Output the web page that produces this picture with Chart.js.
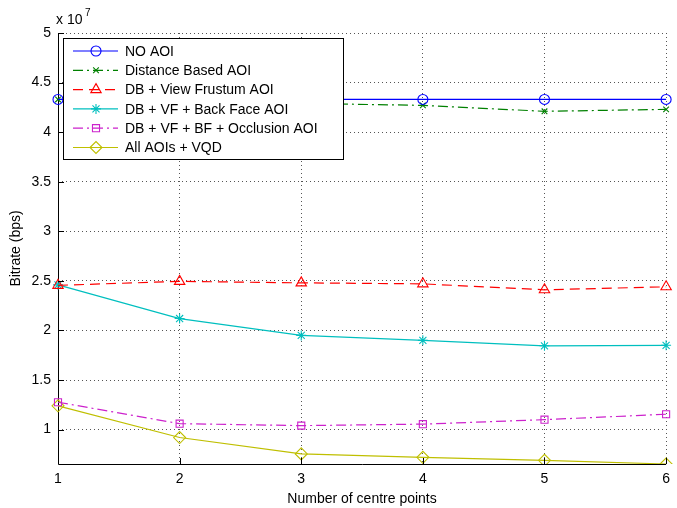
<!DOCTYPE html>
<html>
<head>
<meta charset="utf-8">
<script src="https://cdn.jsdelivr.net/npm/chart.js@4/dist/chart.umd.min.js"></script>
<style>
  html, body { margin: 0; padding: 0; background: #fff; }
  #wrap { width: 677px; height: 508px; position: relative; }
</style>
</head>
<body>
<div id="wrap"><canvas id="bitrateChart" width="677" height="508"></canvas></div>
<script>
// number of centre points
const centrePoints = ['1', '2', '3', '4', '5', '6'];
// bitrate values (bps)
const noAoi = [4.33e7, 4.33e7, 4.33e7, 4.33e7, 4.33e7, 4.33e7];
const distanceAoi = [4.33e7, 4.31e7, 4.29e7, 4.27e7, 4.21e7, 4.23e7];
const frustumAoi = [2.455e7, 2.495e7, 2.48e7, 2.47e7, 2.41e7, 2.44e7];
const backFaceAoi = [2.46e7, 2.12e7, 1.95e7, 1.90e7, 1.845e7, 1.85e7];
const occlusionAoi = [1.276e7, 1.06e7, 1.04e7, 1.055e7, 1.10e7, 1.155e7];
const allAoiVqd = [1.24e7, 0.92e7, 0.755e7, 0.72e7, 0.69e7, 0.653e7];
const yTicks = [1e7, 1.5e7, 2e7, 2.5e7, 3e7, 3.5e7, 4e7, 4.5e7, 5e7];

const FONT = '"Liberation Sans", Arial, Helvetica, sans-serif';

function series(label, data, color, style, radius, dash) {
    return {
        label: label,
        data: data,
        borderColor: color,
        backgroundColor: 'rgba(0,0,0,0)',
        pointBorderColor: color,
        pointBackgroundColor: 'rgba(0,0,0,0)',
        pointStyle: style,
        pointRadius: radius,
        pointBorderWidth: 1.1,
        borderWidth: 1.2,
        borderDash: dash,
        tension: 0,
        fill: false
    };
}

const datasets = [
    series('NO AOI', noAoi, '#0000ff', 'circle', 5, []),
    series('Distance Based AOI', distanceAoi, '#008000', 'crossRot', 4, [10, 4, 2, 4]),
    series('DB + View Frustum AOI', frustumAoi, '#ff0000', 'triangle', 6, [10, 6]),
    series('DB + VF + Back Face AOI', backFaceAoi, '#00bfbf', 'star', 5, []),
    series('DB + VF + BF + Occlusion AOI', occlusionAoi, '#cc22cc', 'rect', 5, [10, 4, 2, 4]),
    series('All AOIs + VQD', allAoiVqd, '#bfbf00', 'rectRot', 6, [])
];

// inside tick marks, exponent label and matlab style legend
const matlabDecor = {
    id: 'matlabDecor',
    beforeDatasetsDraw(chart) {
        // left and bottom solid axes
        const ctx = chart.ctx;
        const area = chart.chartArea;
        ctx.save();
        ctx.strokeStyle = '#000';
        ctx.lineWidth = 1;
        ctx.beginPath();
        ctx.moveTo(area.left + 0.5, area.top);
        ctx.lineTo(area.left + 0.5, area.bottom + 0.5);
        ctx.lineTo(area.right, area.bottom + 0.5);
        ctx.stroke();
        ctx.restore();
    },
    afterDatasetsDraw(chart) {
        const ctx = chart.ctx;
        const area = chart.chartArea;
        const xs = chart.scales.x, ys = chart.scales.y;
        ctx.save();
        ctx.strokeStyle = '#000';
        ctx.lineWidth = 1;
        ctx.beginPath();
        centrePoints.forEach((c, i) => {
            const px = Math.round(xs.getPixelForValue(i)) + 0.5;
            ctx.moveTo(px, area.bottom);
            ctx.lineTo(px, area.bottom - 6);
        });
        yTicks.forEach(v => {
            const py = Math.round(ys.getPixelForValue(v)) + 0.5;
            ctx.moveTo(area.left, py);
            ctx.lineTo(area.left + 6, py);
        });
        ctx.stroke();

        // exponent
        ctx.fillStyle = '#000';
        ctx.font = '14px ' + FONT;
        ctx.textBaseline = 'alphabetic';
        ctx.textAlign = 'left';
        ctx.fillText('x 10', 56, 24);
        ctx.font = '10px ' + FONT;
        ctx.fillText('7', 85, 16);

        // legend box
        const bx = 63, by = 38, bw = 280, bh = 121;
        ctx.fillStyle = '#fff';
        ctx.fillRect(bx, by, bw, bh);
        ctx.strokeStyle = '#000';
        ctx.lineWidth = 1;
        ctx.strokeRect(bx + 0.5, by + 0.5, bw, bh);
        chart.data.datasets.forEach((ds, i) => {
            const cy = by + 13 + i * 19.3;
            ctx.save();
            ctx.strokeStyle = ds.borderColor;
            ctx.lineWidth = ds.borderWidth;
            ctx.setLineDash(ds.borderDash);
            ctx.beginPath();
            ctx.moveTo(73, cy);
            ctx.lineTo(118, cy);
            ctx.stroke();
            ctx.setLineDash([]);
            ctx.strokeStyle = ds.pointBorderColor;
            ctx.fillStyle = 'rgba(0,0,0,0)';
            ctx.lineWidth = ds.pointBorderWidth;
            Chart.helpers.drawPoint(ctx, {
                pointStyle: ds.pointStyle,
                radius: ds.pointRadius,
                borderWidth: ds.pointBorderWidth,
                rotation: 0
            }, 96, cy);
            ctx.restore();
            ctx.fillStyle = '#000';
            ctx.font = '14px ' + FONT;
            ctx.textBaseline = 'middle';
            ctx.textAlign = 'left';
            ctx.fillText(ds.label, 125, cy + 1);
        });
        ctx.restore();
    }
};

const ctx = document.getElementById('bitrateChart').getContext('2d');
new Chart(ctx, {
    type: 'line',
    data: { labels: centrePoints, datasets: datasets },
    options: {
        responsive: false,
        animation: false,
        layout: { padding: { top: 33, right: 4, left: 8, bottom: 0 } },
        scales: {
            x: {
                offset: false,
                grid: { color: '#555', lineWidth: 1, drawTicks: false },
                border: { display: false, dash: [1, 3] },
                ticks: { color: '#000', font: { family: FONT, size: 14 }, padding: 7, maxRotation: 0 },
                title: { display: true, text: 'Number of centre points', color: '#000', font: { family: FONT, size: 14 }, padding: { top: 4, bottom: 0 } },
                afterFit(scale) { scale.height = 44; }
            },
            y: {
                min: 0.653e7,
                max: 5e7,
                grid: { color: '#555', lineWidth: 1, drawTicks: false },
                border: { display: false, dash: [1, 3] },
                afterBuildTicks(scale) { scale.ticks = yTicks.map(v => ({ value: v })); },
                ticks: {
                    color: '#000',
                    font: { family: FONT, size: 14 },
                    padding: 7,
                    callback: v => String(Math.round(v / 1e6) / 10)
                },
                title: { display: true, text: 'Bitrate (bps)', color: '#000', font: { family: FONT, size: 14 }, padding: { top: 0, bottom: 2 } },
                afterFit(scale) { scale.width = 50; }
            }
        },
        plugins: {
            legend: { display: false },
            tooltip: { enabled: false }
        }
    },
    plugins: [matlabDecor]
});
</script>
</body>
</html>
